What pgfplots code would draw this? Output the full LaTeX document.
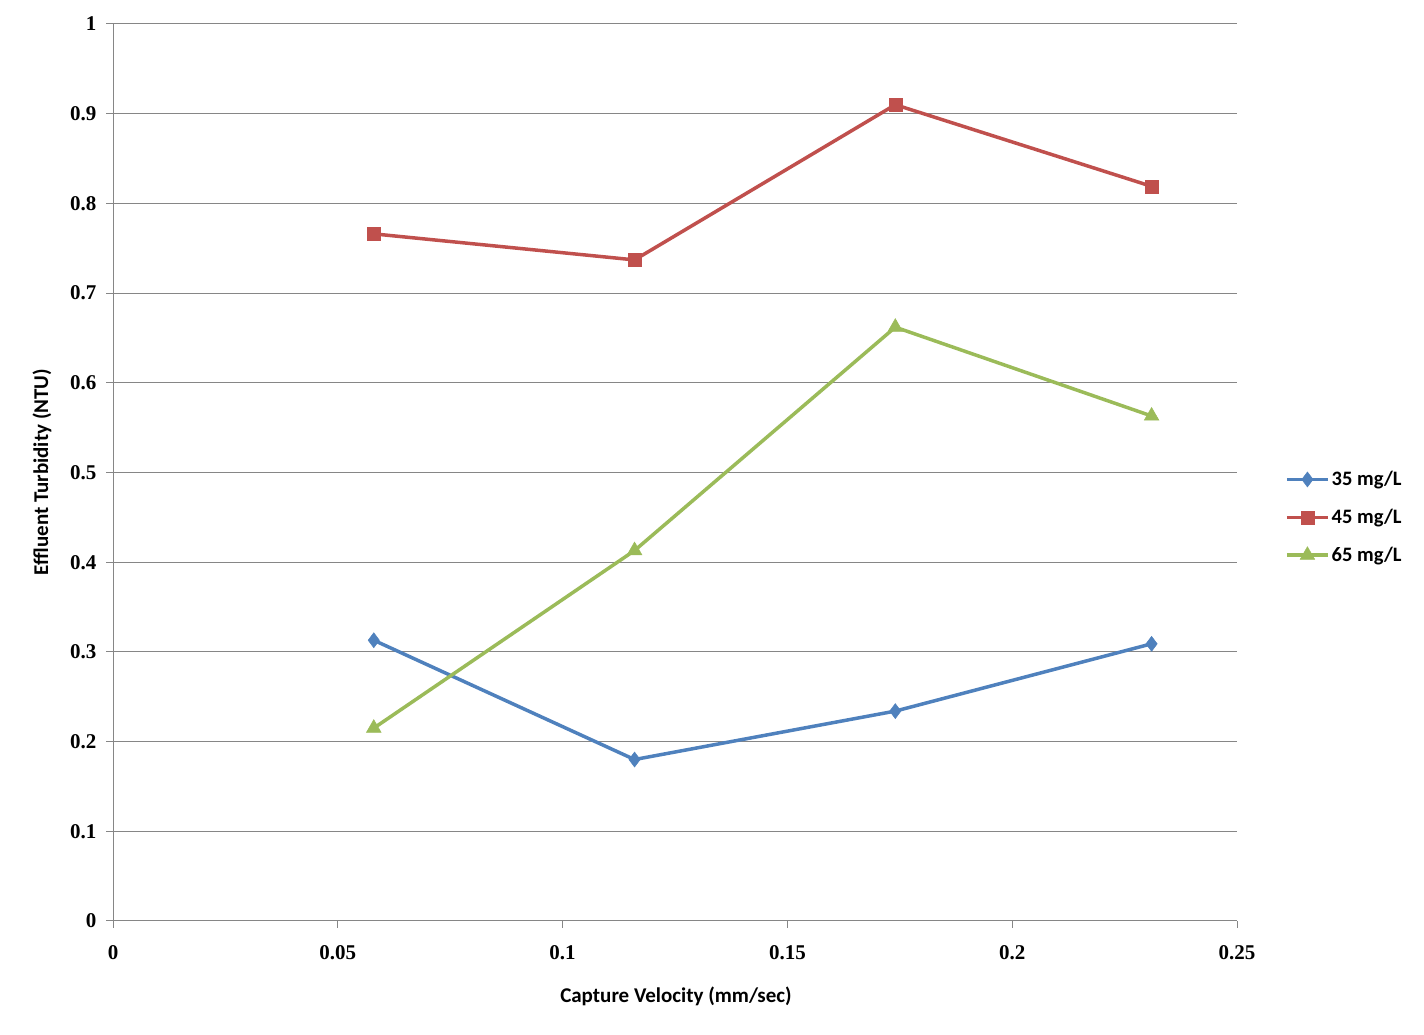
\documentclass[border=0pt]{standalone}
\usepackage{fontspec}
\setmainfont{Carlito}
\newfontfamily\tickfont{Liberation Serif}
\usepackage{pgfplots}
\pgfplotsset{compat=1.18}
\definecolor{sblue}{HTML}{4F81BD}
\definecolor{sred}{HTML}{C0504D}
\definecolor{sgreen}{HTML}{9BBB59}
\definecolor{gridgray}{HTML}{868686}
\begin{document}
\begin{tikzpicture}[x=1pt,y=1pt]
\path[use as bounding box] (0,0) rectangle (1424,1035);
\begin{axis}[
  at={(113pt,114pt)}, anchor=south west,
  scale only axis, width=1124pt, height=897pt,
  xmin=0, xmax=0.25, ymin=0, ymax=1,
  xtick={0,0.05,0.1,0.15,0.2,0.25},
  ytick={0,0.1,0.2,0.3,0.4,0.5,0.6,0.7,0.8,0.9,1},
  xticklabels={0,0.05,0.1,0.15,0.2,0.25},
  yticklabels={0,0.1,0.2,0.3,0.4,0.5,0.6,0.7,0.8,0.9,1},
  axis x line*=bottom, axis y line*=left,
  axis line style={gridgray, line width=1pt, -},
  ymajorgrids, grid style={gridgray, line width=1pt},
  tick align=outside, major tick length=7pt,
  tick style={gridgray, line width=1pt},
  every x tick label/.style={font=\fontsize{21}{24}\selectfont\tickfont\bfseries, yshift=-14pt},
  every y tick label/.style={font=\fontsize{21}{24}\selectfont\tickfont\bfseries, xshift=-6pt},
  legend style={at={(axis description cs:1.04,0.45)}, anchor=west, draw=none, fill=none,
    font=\fontsize{20.5}{24}\selectfont\bfseries, row sep=18pt,
    legend cell align=left},
  legend image code/.code={
    \draw[#1, mark=none] (0pt,0pt) -- (41pt,0pt);
    \draw[#1, only marks] plot coordinates {(20.5pt,0pt)};
  },
  clip=false,
]
\addplot[sblue, line width=3.5pt, mark=diamond*, mark size=7.5pt, mark options={solid, line width=0.5pt}]
 coordinates {(0.058,0.313) (0.116,0.180) (0.174,0.234) (0.231,0.309)};
\addlegendentry{35 mg/L}
\addplot[sred, line width=3.5pt, mark=square*, mark size=6.5pt, mark options={solid, line width=0.5pt}]
 coordinates {(0.058,0.766) (0.116,0.737) (0.174,0.910) (0.231,0.819)};
\addlegendentry{45 mg/L}
\addplot[sgreen, line width=3.5pt, mark=triangle*, mark size=8.5pt, mark options={solid, line width=0.5pt}]
 coordinates {(0.058,0.215) (0.116,0.413) (0.174,0.662) (0.231,0.563)};
\addlegendentry{65 mg/L}
\end{axis}
\node[font=\fontsize{21}{24}\selectfont\bfseries] at (676,39) {Capture Velocity (mm/sec)};
\node[font=\fontsize{21}{24}\selectfont\bfseries, rotate=90] at (42,563) {Effluent Turbidity (NTU)};
\end{tikzpicture}
\end{document}
